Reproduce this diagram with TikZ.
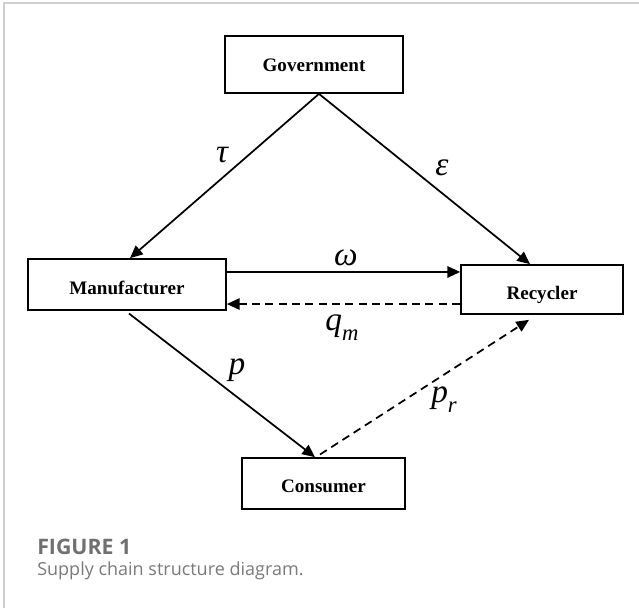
\documentclass[tikz,border=0pt]{standalone}
\usepackage{fontspec}
\setmainfont{Liberation Serif}
\newfontfamily\capfont{Open Sans}
\usetikzlibrary{arrows.meta}
\definecolor{framegray}{HTML}{CFCFCF}
\definecolor{figgray}{HTML}{707070}
\definecolor{capgray}{HTML}{7A7A7A}
\newcommand\lowsub[1]{\raisebox{-0.3em}{\fontsize{17}{18}\selectfont #1}}
\begin{document}
\begin{tikzpicture}[x=0.75pt,y=-0.75pt,
  box/.style={draw, line width=1.3pt, inner sep=0pt, text depth=0pt,
    font=\fontsize{14.3}{16}\selectfont\bfseries},
  arr/.style={line width=1.3pt, -{Triangle[length=9.5pt,width=8.5pt]}},
  dsh/.style={arr, dash pattern=on 6pt off 4pt},
  lbl/.style={font=\fontsize{25}{27}\selectfont\itshape, inner sep=0pt}]
\useasboundingbox (0,0) rectangle (639,608);
\fill[white] (0,0) rectangle (639,608);
\draw[framegray, line width=1.5pt] (4,608) -- (4,3) -- (639,3);

\node[box, text height=10.9pt, minimum width=133.5pt, minimum height=42.75pt] (gov) at (314,64.5) {Government};
\node[box, text height=15.4pt, minimum width=148.5pt, minimum height=38.25pt] (man) at (127,284.5) {Manufacturer};
\node[box, text height=15.4pt, minimum width=121.5pt, minimum height=36.75pt] (rec) at (542,289.5) {Recycler};
\node[box, text height=13.9pt, minimum width=122.25pt, minimum height=38.25pt] (con) at (323.5,483.5) {Consumer};

\draw[arr] ([xshift=3.75pt]gov.south) -- ([xshift=2.25pt]man.north);
\draw[arr] ([xshift=3.75pt]gov.south) -- ([xshift=-9pt]rec.north);
\draw[arr] ([yshift=9.4pt]man.east) -- ([yshift=9.4pt]man.east -| rec.west);
\draw[dsh] ([yshift=-10.9pt]rec.west) -- ([yshift=-10.9pt]rec.west -| man.east);
\draw[arr] ([xshift=1.5pt,yshift=-2pt]man.south) -- ([xshift=-6.4pt]con.north);
\draw[dsh] ([xshift=-2.6pt,yshift=2pt]con.north) -- ([xshift=-9.75pt,yshift=-3.75pt]rec.south);

\node[lbl] (tau) at (222,155) {τ};
\node[lbl] (eps) at (442,168) {ε};
\node[lbl] (omg) at (346,258) {ω};
\node[lbl] (qm) at (342,328) {q\lowsub{m}};
\node[lbl] (pp) at (237,370) {p};
\node[lbl] (pr) at (444,400) {p\lowsub{r}};

\node[anchor=west, inner sep=0pt, text=figgray, font=\capfont\fontsize{16}{18}\selectfont\bfseries] (fig) at (37,547) {FIGURE 1};
\node[anchor=west, inner sep=0pt, text=capgray, font=\capfont\fontsize{13.5}{16}\selectfont] (cap) at (37,571) {Supply chain structure diagram.};
\end{tikzpicture}
\end{document}
